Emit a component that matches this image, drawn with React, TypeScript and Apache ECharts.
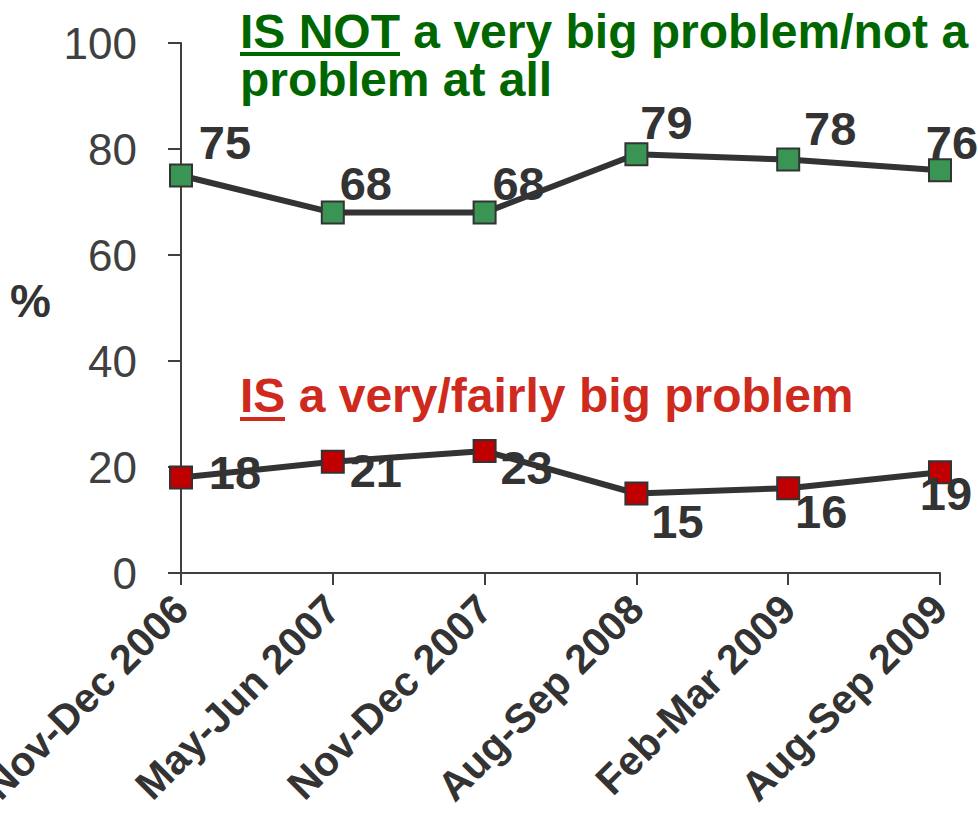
import React, { useEffect, useRef } from "react";
import * as echarts from "echarts";

const categories = [
  "Nov-Dec 2006",
  "May-Jun 2007",
  "Nov-Dec 2007",
  "Aug-Sep 2008",
  "Feb-Mar 2009",
  "Aug-Sep 2009",
];
const notProblem = [75, 68, 68, 79, 78, 76];
const isProblem = [18, 21, 23, 15, 16, 19];
const yMin = 0;
const yMax = 100;
const yInterval = 20;

// label placement (style, not data)
const notOffsets = [
  [44, -33],
  [33, -29],
  [34, -29],
  [30, -32],
  [42, -31],
  [12, -28],
];
const isOffsets = [
  [54, -5],
  [43, 9],
  [42, 16],
  [41, 28],
  [33, 23],
  [6, 21],
];

const FONT = "'Liberation Sans', Arial, Helvetica, sans-serif";
const DARK = "#333333";
const GREEN_TXT = "#006600";
const RED_TXT = "#cf2a1e";

export default function App() {
  const ref = useRef<HTMLDivElement>(null);
  useEffect(() => {
    document.body.style.margin = "0";
    if (!ref.current) return;
    const chart = echarts.init(ref.current, undefined, { renderer: "svg" });

    const mkData = (vals: number[], offs: number[][]) =>
      vals.map((v, i) => ({
        value: v,
        label: { offset: offs[i] },
      }));

    const labelStyle = {
      show: true,
      position: "inside",
      color: DARK,
      fontFamily: FONT,
      fontWeight: "bold",
      fontSize: 47,
    };

    chart.setOption({
      animation: false,
      grid: { left: 181, right: 38, top: 43, bottom: 252, containLabel: false, outerBoundsMode: "none" },
      xAxis: {
        type: "category",
        data: categories,
        boundaryGap: false,
        axisLine: { lineStyle: { color: "#404040", width: 2 } },
        axisTick: { show: true, length: 12, alignWithLabel: true, lineStyle: { color: "#404040", width: 2 } },
        axisLabel: {
          rotate: 45,
          interval: 0,
          margin: 29,
          color: DARK,
          fontFamily: FONT,
          fontWeight: "bold",
          fontSize: 41,
        },
        splitLine: { show: false },
      },
      yAxis: {
        type: "value",
        min: yMin,
        max: yMax,
        interval: yInterval,
        axisLine: { show: true, lineStyle: { color: "#404040", width: 2 } },
        axisTick: { show: true, length: 13, lineStyle: { color: "#404040", width: 2 } },
        axisLabel: {
          margin: 44,
          color: "#404040",
          fontFamily: FONT,
          fontSize: 44,
        },
        splitLine: { show: false },
      },
      series: [
        {
          name: "IS NOT",
          type: "line",
          data: mkData(notProblem, notOffsets),
          symbol: "rect",
          symbolSize: 22,
          lineStyle: { color: DARK, width: 6 },
          itemStyle: { color: "#3a9454", borderColor: DARK, borderWidth: 2 },
          label: labelStyle,
          z: 3,
        },
        {
          name: "IS",
          type: "line",
          data: mkData(isProblem, isOffsets),
          symbol: "rect",
          symbolSize: 22,
          lineStyle: { color: DARK, width: 6 },
          itemStyle: { color: "#c00000", borderColor: DARK, borderWidth: 2 },
          label: labelStyle,
          z: 3,
        },
      ],
      graphic: [
        {
          type: "text",
          left: 10,
          top: 278,
          style: { text: "%", fill: DARK, font: `bold 46px ${FONT}` },
        },
        {
          type: "text",
          x: 240,
          y: 31,
          style: {
            text: "IS NOT a very big problem/not a",
            fill: GREEN_TXT,
            font: `bold 48px ${FONT}`,
            verticalAlign: "middle",
          },
        },
        {
          type: "text",
          x: 240,
          y: 79,
          style: {
            text: "problem at all",
            fill: GREEN_TXT,
            font: `bold 48px ${FONT}`,
            verticalAlign: "middle",
          },
        },
        {
          type: "rect",
          shape: { x: 240, y: 52, width: 160, height: 4 },
          style: { fill: GREEN_TXT },
        },
        {
          type: "text",
          x: 240,
          y: 395,
          style: {
            text: "IS a very/fairly big problem",
            fill: RED_TXT,
            font: `bold 48px ${FONT}`,
            verticalAlign: "middle",
          },
        },
        {
          type: "rect",
          shape: { x: 240, y: 417, width: 45, height: 4 },
          style: { fill: RED_TXT },
        },
      ],
    });
    return () => chart.dispose();
  }, []);
  return (
    <div
      ref={ref}
      style={{ width: 978, height: 825, position: "fixed", left: 0, top: 0, background: "#fff" }}
    />
  );
}
